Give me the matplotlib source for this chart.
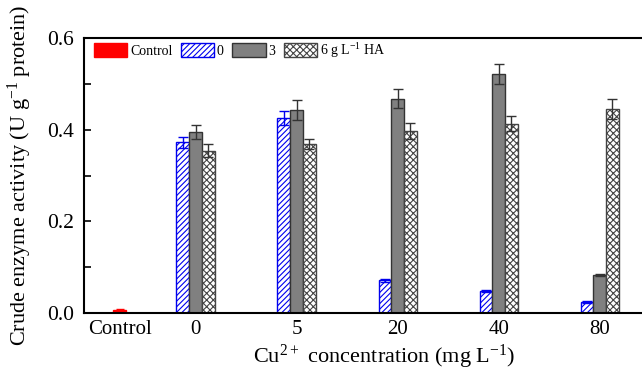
import numpy as np
import matplotlib
matplotlib.use("Agg")
import matplotlib.pyplot as plt

plt.rcParams['font.family'] = ['Liberation Serif', 'DejaVu Serif']
plt.rcParams['mathtext.fontset'] = 'custom'
plt.rcParams['mathtext.rm'] = 'Liberation Serif'
plt.rcParams['mathtext.default'] = 'regular'
plt.rcParams['hatch.linewidth'] = 0.8

# data
groups = ['0', '5', '20', '40', '80']
control_val = 0.006
control_err = 0.002
vals_0 = [0.373, 0.426, 0.071, 0.048, 0.024]
err_0 = [0.012, 0.015, 0.003, 0.002, 0.002]
vals_3 = [0.395, 0.443, 0.468, 0.522, 0.083]
err_3 = [0.016, 0.021, 0.020, 0.022, 0.003]
vals_ha = [0.354, 0.369, 0.397, 0.413, 0.445]
err_ha = [0.014, 0.011, 0.017, 0.016, 0.021]
labels = ['Control', '0', '3', '6 g L$^{-1}$ HA']

fig = plt.figure(figsize=(6.42, 3.72), dpi=100)
ax = fig.add_axes([0.1308, 0.1586, 0.882, 0.739])

x = np.arange(1, len(groups) + 1)
w = 0.126
xc = 0.25

ax.bar(xc, control_val, w, color='#ff0000', edgecolor='#ff0000', label=labels[0],
       yerr=control_err, capsize=3, error_kw=dict(ecolor='#ff0000', elinewidth=1))
ax.bar(x - w, vals_0, w, color='white', edgecolor='#0000ee', hatch='//////', lw=1,
       label=labels[1], yerr=err_0, capsize=3.5,
       error_kw=dict(ecolor='#0000ee', elinewidth=1, capthick=1))
ax.bar(x, vals_3, w, color='#808080', edgecolor='#333333', lw=1, label=labels[2],
       yerr=err_3, capsize=3.5, error_kw=dict(ecolor='#333333', elinewidth=1, capthick=1))
ax.bar(x + w, vals_ha, w, color='white', edgecolor='#444444', hatch='xxxxx', lw=1,
       label=labels[3], yerr=err_ha, capsize=3.5,
       error_kw=dict(ecolor='#333333', elinewidth=1, capthick=1))

ax.set_xlim(-0.104, 5.5)
ax.set_ylim(0, 0.6)
ax.set_xticks([xc] + list(x))
ax.set_xticklabels(['Control'] + groups, fontsize=15)
ax.tick_params(axis='x', length=0, pad=5)
ax.set_yticks([0, 0.2, 0.4, 0.6])
ax.set_yticks([0.1, 0.3, 0.5], minor=True)
ax.set_yticklabels(['0.0', '0.2', '0.4', '0.6'], fontsize=15.5)
ax.tick_params(axis='y', which='both', direction='in', length=5, width=1.2, pad=7)
for s in ax.spines.values():
    s.set_linewidth(1.5)

ax.set_xlabel('Cu$^{2+}$ concentration (mg L$^{-1}$)', fontsize=16)
ax.xaxis.set_label_coords(0.53, -0.11)
ax.set_ylabel('Crude enzyme activity (U g$^{-1}$ protein)', fontsize=16)
ax.yaxis.set_label_coords(-0.088, 0.5)

ax.legend(loc='upper left', ncol=4, frameon=False, fontsize=10,
          handlelength=2.4, handleheight=1.2, handletextpad=0.2,
          columnspacing=0.6, borderaxespad=0.0, bbox_to_anchor=(0.008, 1.01))

fig.savefig('out.png', dpi=100)
